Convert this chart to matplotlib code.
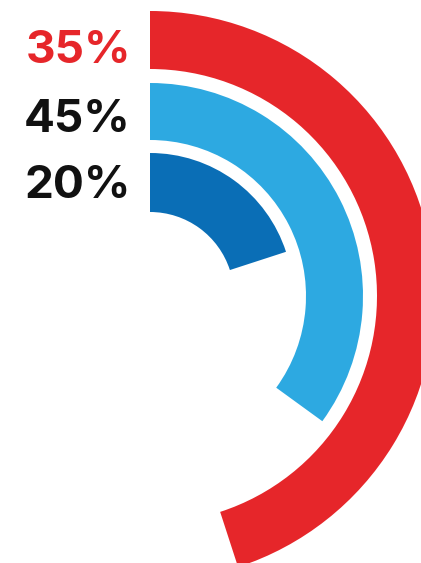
import matplotlib
matplotlib.use("Agg")
import matplotlib.pyplot as plt
from matplotlib.patches import Wedge

# ring shares (percent of a full turn), outer ring first
shares = [45, 35, 20]
pct_labels = ["35%", "45%", "20%"]
ring_colors = ["#E6262A", "#2DA9E1", "#0A6EB6"]
label_colors = ["#E6262A", "#111111", "#111111"]

W, H = 421, 563
fig = plt.figure(figsize=(W / 100, H / 100), dpi=100)
ax = fig.add_axes([0, 0, 1, 1])
ax.set_xlim(0, W)
ax.set_ylim(0, H)
ax.set_aspect("equal")
ax.axis("off")

cx, cy = 150, H - 296
outer_r = [285, 213, 143]
ring_w = [58, 57, 59]
baselines = [63, 132, 198]

for share, r, w, col in zip(shares, outer_r, ring_w, ring_colors):
    # start at 12 o'clock and run clockwise
    ax.add_patch(Wedge((cx, cy), r, 90 - share * 3.6, 90, width=w,
                       facecolor=col, edgecolor="none"))

for txt, col, yb in zip(pct_labels, label_colors, baselines):
    ax.text(131, H - yb, txt, color=col, fontsize=33, fontweight="bold",
            family="Inter", ha="right", va="baseline")

fig.savefig("out.png", dpi=100)
